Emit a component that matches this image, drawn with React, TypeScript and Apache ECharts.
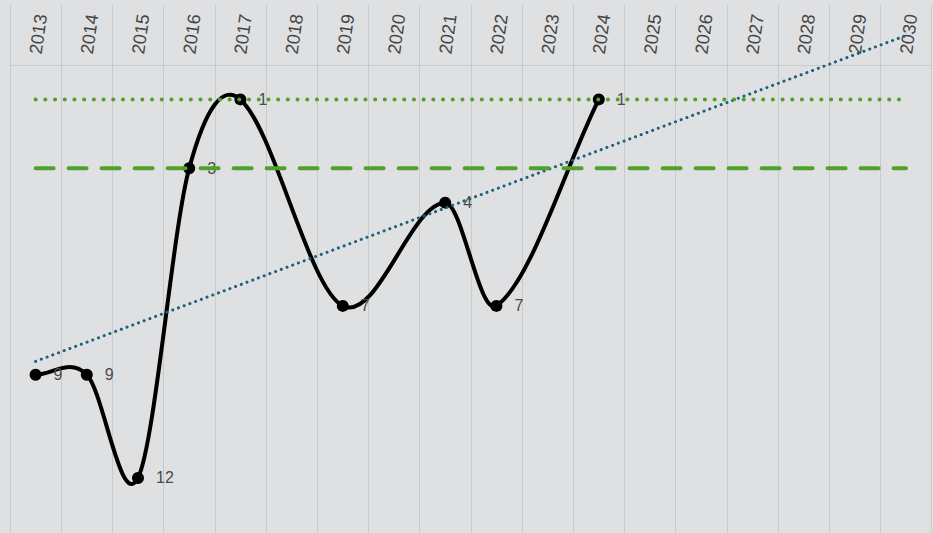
import React, { useEffect, useRef } from "react";
import * as echarts from "echarts";

const years = [
  "2013", "2014", "2015", "2016", "2017", "2018", "2019", "2020", "2021",
  "2022", "2023", "2024", "2025", "2026", "2027", "2028", "2029", "2030",
];
const ranks: (number | null)[] = [
  9, 9, 12, 3, 1, null, 7, null, 4, 7, null, 1,
  null, null, null, null, null, null,
];
const targetRank = 1;
const thresholdRank = 3;

const observed: [number, number][] = [];
ranks.forEach((v, i) => {
  if (v != null) observed.push([i, v]);
});

function trendValues(): (number | null)[] {
  const n = observed.length;
  const mx = observed.reduce((s, p) => s + p[0], 0) / n;
  const my = observed.reduce((s, p) => s + p[1], 0) / n;
  let sxy = 0;
  let sxx = 0;
  observed.forEach(([x, y]) => {
    sxy += (x - mx) * (y - my);
    sxx += (x - mx) * (x - mx);
  });
  const slope = sxy / sxx;
  const icpt = my - slope * mx;
  const last = years.length - 1;
  return years.map((_, i) => (i === 0 || i === last ? icpt + slope * i : null));
}

// cubic Hermite spline with finite-difference (x-parameterised Catmull-Rom) tangents
function splinePath(pts: number[][]): string {
  const n = pts.length;
  if (!n) return "";
  const m: number[] = pts.map((p, i) => {
    const a = pts[Math.max(0, i - 1)];
    const b = pts[Math.min(n - 1, i + 1)];
    return (b[1] - a[1]) / (b[0] - a[0]);
  });
  let d = `M${pts[0][0]},${pts[0][1]}`;
  for (let i = 0; i < n - 1; i++) {
    const p1 = pts[i];
    const p2 = pts[i + 1];
    const h = (p2[0] - p1[0]) / 3;
    d += ` C${p1[0] + h},${p1[1] + m[i] * h} ${p2[0] - h},${p2[1] - m[i + 1] * h} ${p2[0]},${p2[1]}`;
  }
  return d;
}

export default function App() {
  const ref = useRef<HTMLDivElement>(null);
  useEffect(() => {
    if (!ref.current) return;
    const chart = echarts.init(ref.current, undefined, { renderer: "svg" });
    const gridColor = "#c9cacb";
    chart.setOption({
      animation: false,
      backgroundColor: "#dfe0e1",
      textStyle: { fontFamily: "Liberation Sans" },
      grid: { left: 10, right: 1.4, top: 65, bottom: 0, containLabel: false },
      xAxis: {
        type: "category",
        data: years,
        position: "top",
        boundaryGap: true,
        axisLine: { show: true, lineStyle: { color: gridColor, width: 1 } },
        axisTick: {
          show: true,
          interval: 0,
          inside: false,
          length: 60,
          lineStyle: { color: gridColor, width: 1 },
        },
        axisLabel: {
          interval: 0,
          rotate: 82,
          margin: 11,
          fontSize: 18,
          color: "#444",
          fontFamily: "Liberation Sans",
        },
        splitLine: {
          show: true,
          interval: 0,
          lineStyle: { color: gridColor, width: 1 },
        },
      },
      yAxis: {
        type: "value",
        inverse: true,
        min: 0,
        max: 13.6,
        show: false,
        splitLine: { show: false },
      },
      series: [
        {
          name: "Curve",
          type: "custom",
          data: [0],
          z: 3,
          silent: true,
          renderItem: (_params: any, api: any) => {
            const pts = observed.map(([i, v]) => api.coord([i, v]));
            return {
              type: "path",
              shape: { pathData: splinePath(pts) },
              style: { stroke: "#000", lineWidth: 4, fill: "none" },
            };
          },
        },
        {
          name: "Rank",
          type: "scatter",
          data: observed.map(([i, v]) => [years[i], v]),
          z: 4,
          symbol: "circle",
          symbolSize: 12,
          itemStyle: { color: "#000", opacity: 1 },
          label: {
            show: true,
            position: "right",
            distance: 12,
            fontSize: 16,
            color: "#4a4a4a",
            fontFamily: "Liberation Sans",
            formatter: (p: any) => String(p.value[1]),
          },
        },
        {
          name: "Trend",
          type: "line",
          data: trendValues(),
          connectNulls: true,
          showSymbol: false,
          symbol: "none",
          clip: false,
          z: 5,
          lineStyle: { color: "#1d5f7c", width: 3, type: [0.1, 6], cap: "round" },
        },
        {
          name: "Target",
          type: "line",
          data: years.map(() => targetRank),
          showSymbol: false,
          symbol: "none",
          z: 6,
          lineStyle: { color: "#4fa12a", width: 4, type: [0.1, 9.6], cap: "round" },
        },
        {
          name: "Threshold",
          type: "line",
          data: years.map(() => thresholdRank),
          showSymbol: false,
          symbol: "none",
          z: 6,
          lineStyle: { color: "#4fa12a", width: 4, type: [18, 15], cap: "round" },
        },
      ],
    });
    return () => chart.dispose();
  }, []);
  return (
    <div
      ref={ref}
      style={{ position: "fixed", left: 0, top: 0, width: 933, height: 533 }}
    />
  );
}
